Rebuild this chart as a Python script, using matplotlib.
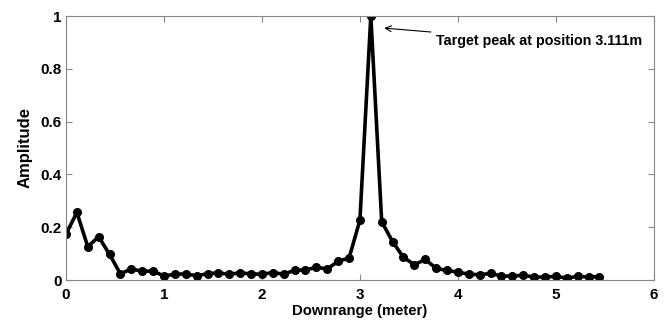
import matplotlib
matplotlib.use("Agg")
import matplotlib.pyplot as plt
import numpy as np

plt.rcParams['font.family'] = ['Liberation Sans', 'DejaVu Sans']

step = 0.1111
amplitude = [0.174, 0.256, 0.126, 0.164, 0.097, 0.023, 0.042, 0.033, 0.034, 0.015,
             0.022, 0.023, 0.016, 0.024, 0.027, 0.022, 0.027, 0.023, 0.022, 0.028,
             0.022, 0.037, 0.038, 0.048, 0.042, 0.071, 0.083, 0.227, 1.000, 0.221,
             0.145, 0.086, 0.058, 0.078, 0.044, 0.036, 0.030, 0.022, 0.020, 0.025,
             0.015, 0.015, 0.018, 0.011, 0.011, 0.014, 0.007, 0.014, 0.011, 0.013]
downrange = np.arange(len(amplitude)) * step
xticks = [0, 1, 2, 3, 4, 5, 6]
yticks = [0, 0.2, 0.4, 0.6, 0.8, 1]
ytick_labels = ['0', '0.2', '0.4', '0.6', '0.8', '1']
annot_text = 'Target peak at position 3.111m'

fig = plt.figure(figsize=(6.7, 3.2), dpi=100)
ax = fig.add_axes([0.0985, 0.125, 0.8775, 0.825])
ax.plot(downrange, amplitude, color='black', lw=2.6, marker='o', ms=5.5)
ax.set_xlim(0, 6)
ax.set_ylim(0, 1)
ax.set_xticks(xticks)
ax.set_yticks(yticks)
ax.set_yticklabels(ytick_labels)
for s in ax.spines.values():
    s.set_color('#888888')
    s.set_linewidth(0.8)
ax.tick_params(direction='in', color='#888888', length=4, labelsize=11,
               top=True, right=True)
ax.tick_params(axis='x', pad=6)
ax.tick_params(axis='y', pad=3)
for lbl in ax.get_xticklabels() + ax.get_yticklabels():
    lbl.set_fontweight('bold')
ax.set_xlabel('Downrange (meter)', fontsize=10.7, fontweight='bold', labelpad=1)
ax.set_ylabel('Amplitude', fontsize=12, fontweight='bold', labelpad=6)
ax.annotate(annot_text, xy=(3.22, 0.955), xytext=(3.78, 0.905),
            fontsize=10.3, fontweight='bold', va='center', ha='left',
            arrowprops=dict(arrowstyle='->', color='black', lw=0.8))
fig.savefig('out.png', dpi=100)
